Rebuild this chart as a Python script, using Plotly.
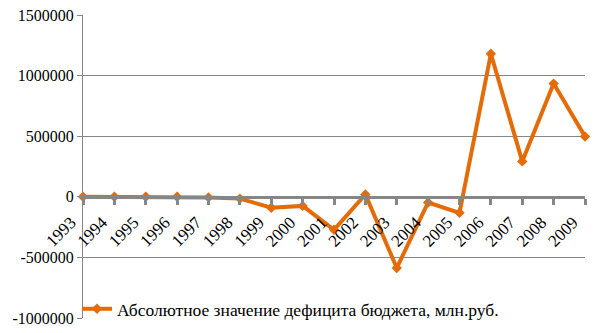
import plotly.graph_objects as go

years = [1993, 1994, 1995, 1996, 1997, 1998, 1999, 2000, 2001,
         2002, 2003, 2004, 2005, 2006, 2007, 2008, 2009]
deficit = [0, 0, 0, 0, -5000, -15000, -90000, -75000, -272000,
           20000, -587000, -47000, -132000, 1180000, 292000, 934000, 498000]
series_name = "Абсолютное значение дефицита бюджета, млн.руб."
y_ticks = [-1000000, -500000, 0, 500000, 1000000, 1500000]

orange = "#E36C09"
grey = "#868686"
serif = "'Liberation Serif', 'Times New Roman', serif"

fig = go.Figure()
fig.add_trace(go.Scatter(
    x=years, y=deficit, name=series_name, mode="lines+markers",
    line=dict(color=orange, width=4),
    marker=dict(symbol="diamond", size=8, color=orange),
    cliponaxis=False,
))

y_lo, y_hi = -1000000, 1500000
zero_pos = (0 - y_lo) / (y_hi - y_lo)

fig.update_layout(
    width=613, height=333,
    margin=dict(l=83, r=28, t=15, b=15, autoexpand=False),
    paper_bgcolor="white", plot_bgcolor="white",
    font=dict(family=serif, size=16, color="black"),
    showlegend=True,
    legend=dict(x=-0.012, y=0.03, xanchor="left", yanchor="middle",
                bgcolor="rgba(0,0,0,0)", font=dict(family=serif, size=17.5),
                itemwidth=30, tracegroupgap=0),
    xaxis=dict(
        range=[1993, 2009], tickmode="array", tickvals=years,
        ticktext=[str(y) for y in years], tickangle=-45,
        anchor="free", position=zero_pos, automargin=False,
        showline=True, linecolor=grey, linewidth=3,
        ticks="outside", ticklen=6, tickwidth=3, tickcolor=grey,
        ticklabelshift=-12, ticklabelstandoff=1,
        showgrid=False, zeroline=False,
        tickfont=dict(family=serif, size=17),
    ),
    yaxis=dict(
        range=[y_lo, y_hi], tickvals=y_ticks, automargin=False,
        ticktext=[str(v) for v in y_ticks],
        showline=True, linecolor=grey, linewidth=1,
        ticks="outside", ticklen=5, tickcolor=grey,
        showgrid=True, gridcolor=grey, gridwidth=1,
        zeroline=False, tickfont=dict(family=serif, size=16),
    ),
)

fig.write_html("out.html")
